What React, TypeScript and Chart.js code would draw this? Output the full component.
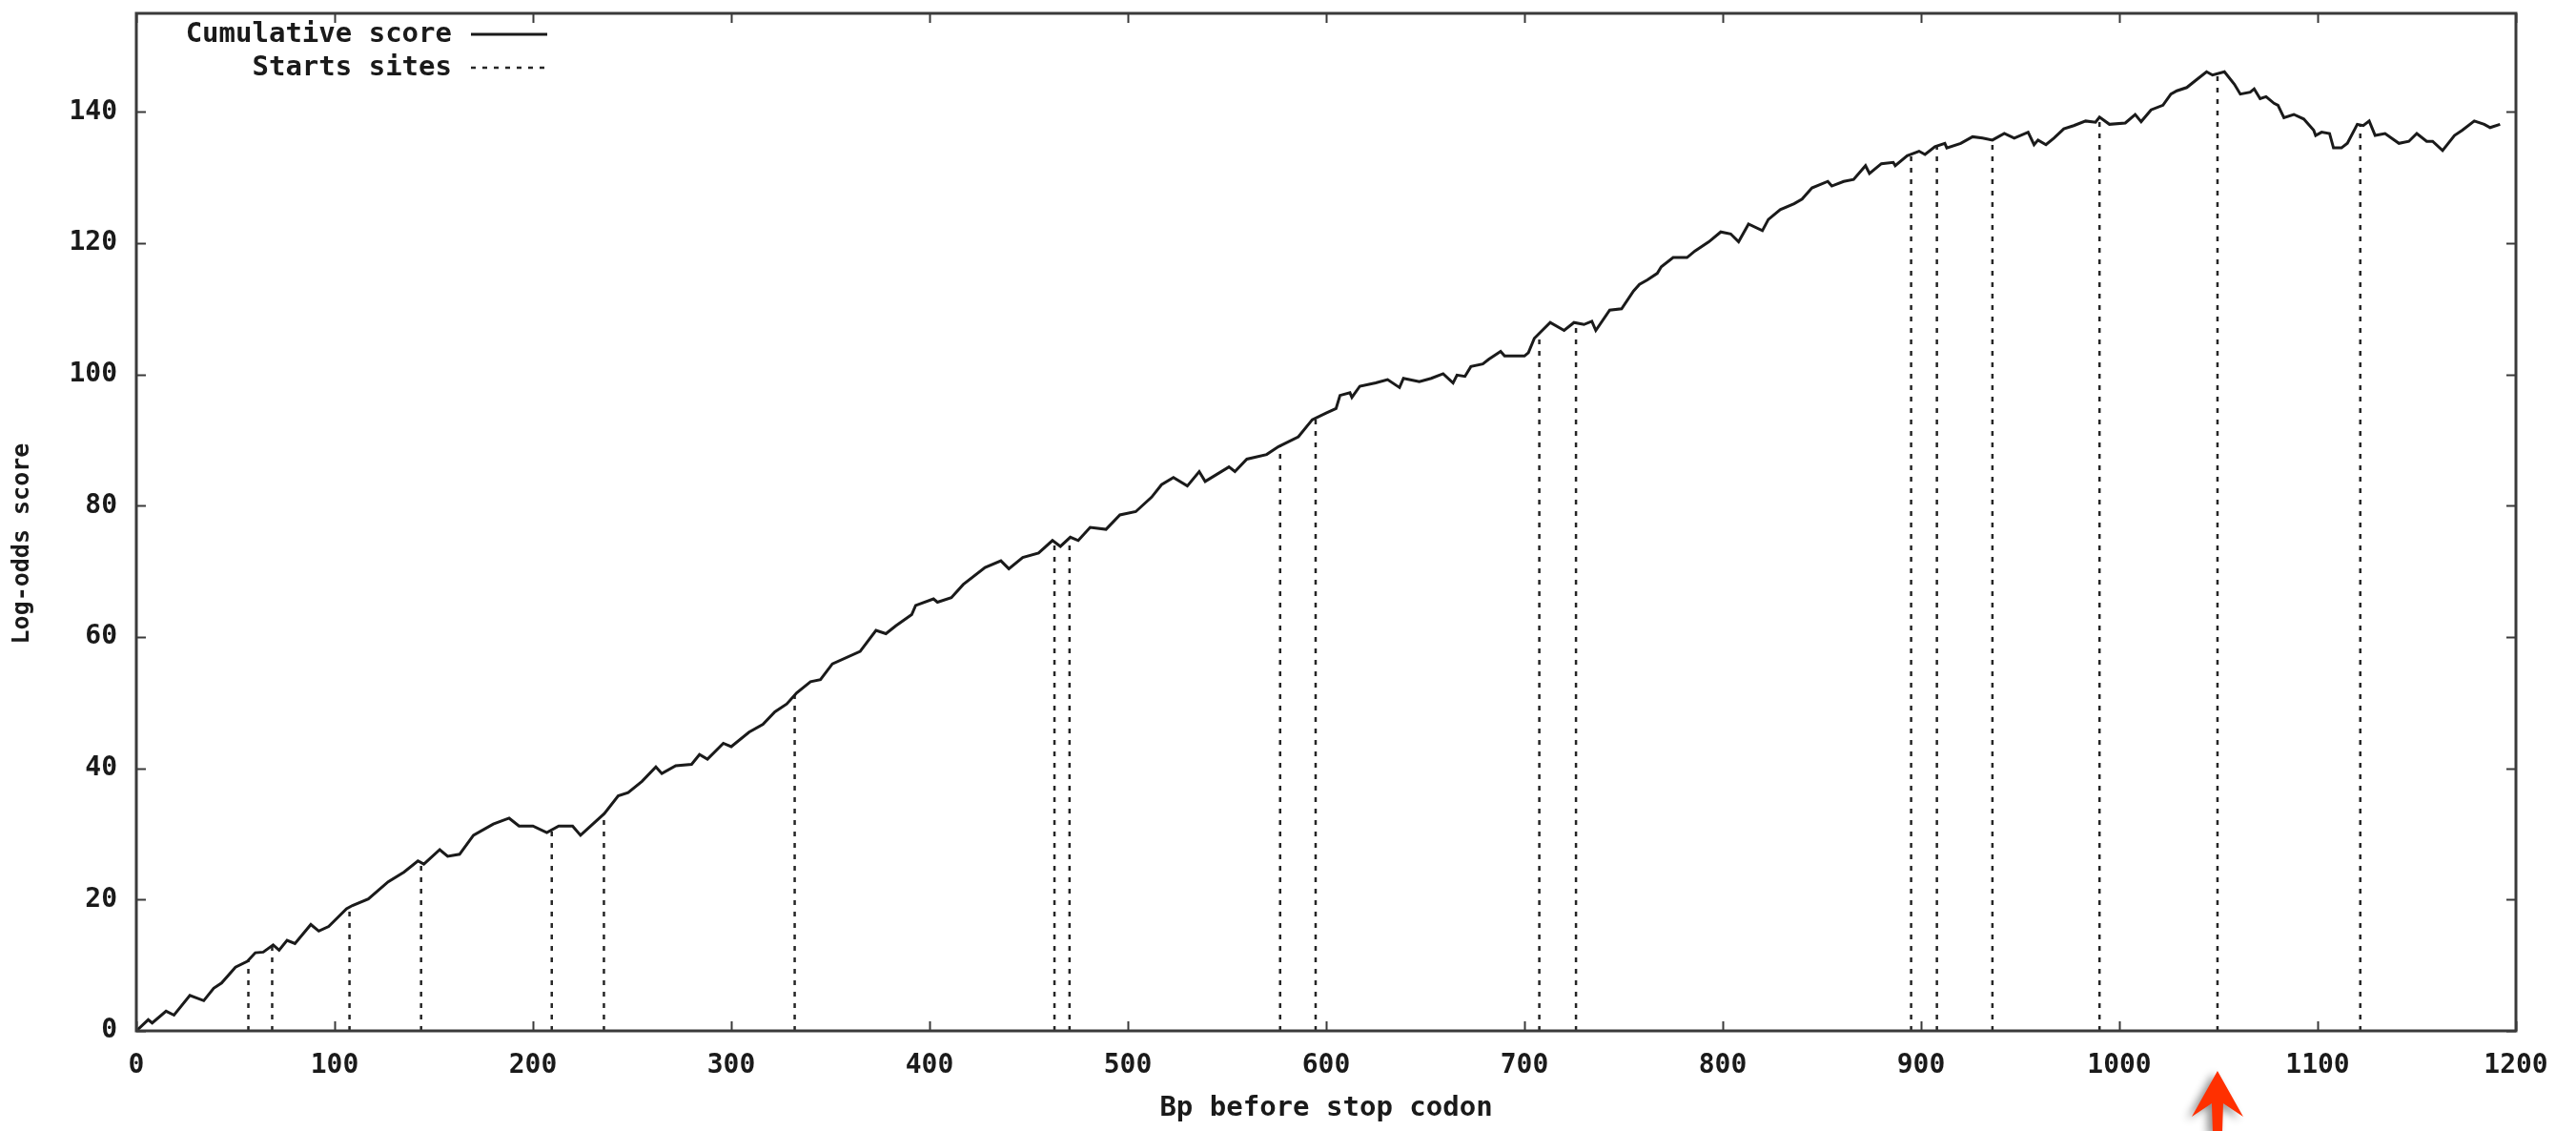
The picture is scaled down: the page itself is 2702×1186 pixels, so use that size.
import React, { useEffect, useRef } from "react";
import { Chart, registerables } from "chart.js";

Chart.register(...registerables);

// Bp before stop codon (x) and cumulative log-odds score (y)
const bpPositions = [
  0, 6, 8, 15, 19, 27, 34, 39, 43, 50, 56, 60, 64, 69, 72, 76, 80, 88, 92, 97,
  106, 109, 117, 127, 135, 142, 145, 153, 157, 163, 170, 180, 188, 193, 200, 207, 213, 220, 224, 236,
  243, 248, 255, 262, 265, 272, 280, 284, 288, 296, 300, 309, 316, 322, 328, 333, 340, 345, 351, 365,
  373, 378, 383, 391, 393, 402, 404, 411, 417, 428, 436, 440, 447, 455, 462, 466, 471, 475, 481, 489,
  496, 504, 512, 517, 523, 530, 536, 539, 551, 554, 560, 570, 576, 586, 593, 600, 605, 607, 612, 613,
  617, 625, 631, 637, 639, 647, 653, 659, 664, 666, 670, 673, 679, 682, 688, 690, 700, 702, 705, 708,
  713, 720, 725, 730, 734, 736, 743, 749, 755, 758, 762, 767, 769, 775, 782, 786, 793, 799, 804, 808,
  813, 820, 823, 829, 836, 840, 845, 853, 855, 861, 866, 872, 874, 880, 886, 887, 893, 899, 902, 907,
  912, 913, 920, 926, 931, 936, 942, 947, 954, 957, 959, 963, 967, 972, 977, 983, 988, 990, 995, 1003,
  1008, 1011, 1016, 1022, 1026, 1029, 1034, 1039, 1044, 1047, 1053, 1058, 1061, 1066, 1068, 1071, 1074, 1078, 1080, 1083,
  1088, 1093, 1098, 1099, 1102, 1106, 1108, 1112, 1115, 1120, 1123, 1126, 1129, 1134, 1141, 1146, 1150, 1155, 1158, 1163,
  1169, 1173, 1179, 1184, 1187, 1192,
];

const cumulativeScore = [
  0, 1.7, 1.2, 3.0, 2.4, 5.4, 4.6, 6.5, 7.3, 9.7, 10.6, 11.9, 12.0, 13.1, 12.3, 13.8, 13.3, 16.2, 15.2, 15.9,
  18.6, 19.1, 20.1, 22.7, 24.2, 25.9, 25.4, 27.6, 26.6, 26.9, 29.8, 31.5, 32.4, 31.2, 31.2, 30.2, 31.2, 31.2, 29.8, 33.1,
  35.8, 36.3, 38.0, 40.2, 39.2, 40.4, 40.6, 42.1, 41.4, 43.8, 43.3, 45.5, 46.7, 48.6, 49.8, 51.5, 53.2, 53.5, 55.9, 57.8,
  61.0, 60.5, 61.7, 63.4, 64.8, 65.8, 65.3, 66.0, 68.0, 70.6, 71.6, 70.4, 72.1, 72.8, 74.7, 73.8, 75.2, 74.7, 76.7, 76.4,
  78.6, 79.1, 81.3, 83.2, 84.3, 83.0, 85.2, 83.7, 85.9, 85.2, 87.1, 87.8, 89.0, 90.5, 93.1, 94.1, 94.8, 96.8, 97.2, 96.5,
  98.2, 98.7, 99.2, 98.0, 99.4, 98.9, 99.4, 100.1, 98.7, 99.9, 99.7, 101.2, 101.6, 102.3, 103.5, 102.8, 102.8, 103.3, 105.5, 106.4,
  107.9, 106.7, 107.9, 107.6, 108.1, 106.7, 109.8, 110.0, 112.7, 113.7, 114.4, 115.4, 116.4, 117.8, 117.8, 118.8, 120.2, 121.7, 121.4, 120.2,
  122.9, 121.9, 123.6, 125.1, 126.0, 126.7, 128.4, 129.4, 128.7, 129.4, 129.7, 131.8, 130.6, 132.1, 132.3, 131.8, 133.3, 134.0, 133.5, 134.7,
  135.2, 134.5, 135.2, 136.2, 136.0, 135.7, 136.7, 136.0, 136.9, 135.0, 135.7, 135.0, 136.0, 137.4, 137.9, 138.6, 138.4, 139.2, 138.1, 138.3,
  139.6, 138.5, 140.3, 141.0, 142.7, 143.2, 143.7, 144.9, 146.1, 145.6, 146.1, 144.2, 142.7, 143.0, 143.5, 142.0, 142.3, 141.3, 141.0, 139.1,
  139.6, 138.9, 137.2, 136.4, 136.9, 136.7, 134.5, 134.5, 135.2, 138.1, 137.9, 138.6, 136.4, 136.7, 135.2, 135.5, 136.7, 135.5, 135.5, 134.1,
  136.4, 137.2, 138.6, 138.1, 137.6, 138.1,
];

// Start sites (bp), drawn as dotted drops from the axis up to the curve
const startSites = [
  56.5, 68.5, 107.5, 143.6, 209.5, 235.8, 332, 463, 470.6, 576.8, 594.7,
  707.5, 726, 895, 908, 936, 990, 1049.5, 1121.5,
];

const highlightedSite = 1049.5; // the red arrow
const legendLabels = ["Cumulative score", "Starts sites"];
const xTitle = "Bp before stop codon";
const yTitle = "Log-odds score";
const xRange = [0, 1200];
const yRange = [0, 155];
const xStep = 100;
const yStep = 20;

function scoreAt(bp: number): number {
  for (let i = 1; i < bpPositions.length; i++) {
    if (bpPositions[i] >= bp) {
      const x0 = bpPositions[i - 1], x1 = bpPositions[i];
      const t = (bp - x0) / (x1 - x0);
      return cumulativeScore[i - 1] + t * (cumulativeScore[i] - cumulativeScore[i - 1]);
    }
  }
  return cumulativeScore[cumulativeScore.length - 1];
}

const FONT = '"DejaVu Sans Mono", monospace';
const INK = "#1a1a1a";
const FRAME = "#3a3a3a";

const framePlugin = {
  id: "gnuplotFrame",
  afterDatasetsDraw(chart: any) {
    const { ctx, chartArea } = chart;
    const { left, right, top, bottom } = chartArea;
    const xs = chart.scales.x;
    const ys = chart.scales.y;
    ctx.save();
    // inward ticks on all four sides
    ctx.strokeStyle = FRAME;
    ctx.lineWidth = 2;
    const tl = 10;
    ctx.beginPath();
    xs.ticks.forEach((t: any) => {
      const px = Math.round(xs.getPixelForValue(t.value)) + 0.5;
      ctx.moveTo(px, bottom);
      ctx.lineTo(px, bottom - tl);
      ctx.moveTo(px, top);
      ctx.lineTo(px, top + tl);
    });
    ys.ticks.forEach((t: any) => {
      const py = Math.round(ys.getPixelForValue(t.value)) + 0.5;
      ctx.moveTo(left, py);
      ctx.lineTo(left + tl, py);
      ctx.moveTo(right, py);
      ctx.lineTo(right - tl, py);
    });
    ctx.stroke();
    // border box
    ctx.lineWidth = 3;
    ctx.strokeRect(left, top, right - left, bottom - top);

    // legend (gnuplot style: text right-aligned, sample on the right)
    ctx.font = "bold 29px " + FONT;
    ctx.fillStyle = INK;
    ctx.textAlign = "right";
    ctx.textBaseline = "middle";
    const textRight = left + 331;
    const rows = [top + 22, top + 57];
    chart.data.datasets.forEach((ds: any, i: number) => {
      const y = rows[i];
      ctx.fillText(legendLabels[i], textRight, y);
      ctx.beginPath();
      ctx.strokeStyle = ds.borderColor;
      ctx.lineWidth = ds.borderWidth;
      ctx.setLineDash(ds.borderDash || []);
      ctx.moveTo(textRight + 20, y);
      ctx.lineTo(textRight + 100, y);
      ctx.stroke();
      ctx.setLineDash([]);
    });

    // red hand-drawn arrow under the highlighted site
    const ax = xs.getPixelForValue(highlightedSite);
    const tipY = bottom + 42;
    ctx.shadowColor = "rgba(0,0,0,0.45)";
    ctx.shadowBlur = 8;
    ctx.shadowOffsetX = -5;
    ctx.shadowOffsetY = 3;
    ctx.fillStyle = "#ff3000";
    ctx.beginPath();
    ctx.moveTo(ax, tipY);
    ctx.lineTo(ax + 27, tipY + 48);
    ctx.lineTo(ax + 6, tipY + 34);
    ctx.lineTo(ax + 5, chart.height + 2);
    ctx.lineTo(ax - 5, chart.height + 2);
    ctx.lineTo(ax - 6, tipY + 34);
    ctx.lineTo(ax - 27, tipY + 48);
    ctx.closePath();
    ctx.fill();
    ctx.restore();
  },
};

export default function App() {
  const ref = useRef<HTMLCanvasElement | null>(null);

  useEffect(() => {
    if (!ref.current) return;
    const curve = bpPositions.map((x, i) => ({ x, y: cumulativeScore[i] }));
    const drops: { x: number; y: number | null }[] = [];
    startSites.forEach((s) => {
      drops.push({ x: s, y: 0 });
      drops.push({ x: s, y: scoreAt(s) });
      drops.push({ x: s, y: null });
    });

    const chart = new Chart(ref.current, {
      type: "line",
      data: {
        datasets: [
          {
            label: legendLabels[0],
            data: curve,
            borderColor: INK,
            borderWidth: 3,
            pointRadius: 0,
            tension: 0,
            fill: false,
          },
          {
            label: legendLabels[1],
            data: drops as any,
            borderColor: "#262626",
            borderWidth: 2.5,
            borderDash: [5, 7],
            pointRadius: 0,
            spanGaps: false,
            fill: false,
          },
        ],
      },
      options: {
        animation: false,
        responsive: false,
        devicePixelRatio: 1,
        layout: { padding: { left: 0, right: 63, top: 14, bottom: 0 } },
        plugins: { legend: { display: false }, tooltip: { enabled: false } },
        scales: {
          x: {
            type: "linear",
            min: xRange[0],
            max: xRange[1],
            afterFit: (s: any) => {
              s.height = 105;
              s.paddingLeft = 0;
              s.paddingRight = 0;
            },
            ticks: {
              stepSize: xStep,
              includeBounds: false,
              color: INK,
              padding: 20,
              maxRotation: 0,
              autoSkip: false,
              callback: (v: any) => String(v),
              font: { family: FONT, size: 28, weight: "bold" },
            },
            grid: { display: false, drawTicks: false },
            border: { display: false },
            title: {
              display: true,
              text: xTitle,
              color: INK,
              font: { family: FONT, size: 29, weight: "bold" },
              padding: { top: 0, bottom: 6 },
            },
          },
          y: {
            type: "linear",
            min: yRange[0],
            max: yRange[1],
            afterFit: (s: any) => {
              s.width = 143;
              s.paddingTop = 0;
              s.paddingBottom = 0;
            },
            ticks: {
              stepSize: yStep,
              includeBounds: false,
              color: INK,
              padding: 20,
              callback: (v: any) => String(v),
              font: { family: FONT, size: 28, weight: "bold" },
            },
            grid: { display: false, drawTicks: false },
            border: { display: false },
            title: {
              display: true,
              // trailing spaces nudge the centred, rotated title slightly lower, as in the original
              text: yTitle + "   ",
              color: INK,
              font: { family: FONT, size: 25, weight: "bold" },
              padding: { top: 8, bottom: 0 },
            },
          },
        },
      },
      plugins: [framePlugin],
    });
    return () => chart.destroy();
  }, []);

  return (
    <div style={{ position: "absolute", left: 0, top: 0, width: 2702, height: 1186, background: "#fff" }}>
      <canvas ref={ref} width={2702} height={1186} style={{ width: 2702, height: 1186, display: "block" }} />
    </div>
  );
}
